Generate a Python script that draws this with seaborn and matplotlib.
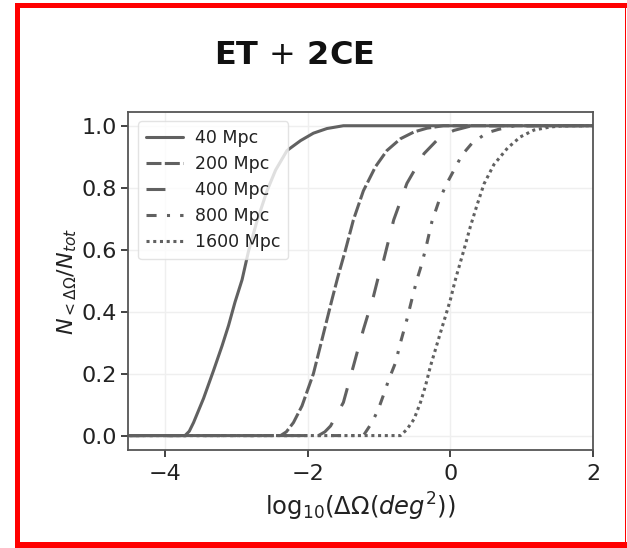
import matplotlib
matplotlib.use("Agg")
import matplotlib.pyplot as plt
import seaborn as sns
import pandas as pd
from matplotlib.patches import Rectangle

# ---- data ----
labels = ["40 Mpc", "200 Mpc", "400 Mpc", "800 Mpc", "1600 Mpc"]

x_40 = [-4.5, -3.72, -3.66, -3.60, -3.46, -3.32, -3.20, -3.11, -3.02, -2.92, -2.83, -2.71,
        -2.57, -2.45, -2.29, -2.10, -1.92, -1.73, -1.50, 2.0]
y_40 = [0.0, 0.0, 0.014, 0.042, 0.12, 0.21, 0.29, 0.355, 0.43, 0.503, 0.595, 0.693,
        0.79, 0.857, 0.92, 0.952, 0.976, 0.991, 1.0, 1.0]

x_200 = [-4.5, -2.38, -2.30, -2.20, -2.08, -1.92, -1.80, -1.66, -1.58, -1.47, -1.36, -1.22,
         -1.05, -0.89, -0.70, -0.51, -0.33, -0.10, 2.0]
y_200 = [0.0, 0.0, 0.012, 0.042, 0.096, 0.20, 0.31, 0.439, 0.51, 0.60, 0.696, 0.79,
         0.868, 0.92, 0.958, 0.98, 0.992, 1.0, 1.0]

x_400 = [-4.5, -1.85, -1.76, -1.68, -1.50, -1.36, -1.22, -1.08, -1.02, -0.935, -0.795,
         -0.61, -0.37, -0.14, 0.05, 0.30, 2.0]
y_400 = [0.0, 0.0, 0.012, 0.031, 0.107, 0.224, 0.342, 0.448, 0.503, 0.567, 0.696,
         0.814, 0.91, 0.965, 0.985, 1.0, 1.0]

x_800 = [-4.5, -1.22, -1.10, -1.01, -0.935, -0.865, -0.77, -0.70, -0.61, -0.54, -0.47,
         -0.42, -0.35, -0.26, -0.16, -0.05, 0.05, 0.16, 0.30, 0.51, 0.67, 0.90, 2.0]
y_800 = [0.0, 0.0, 0.042, 0.085, 0.133, 0.18, 0.235, 0.30, 0.375, 0.44, 0.503,
         0.54, 0.60, 0.69, 0.758, 0.814, 0.857, 0.905, 0.943, 0.977, 0.988, 1.0, 1.0]

x_1600 = [-4.5, -0.70, -0.61, -0.51, -0.42, -0.35, -0.28, -0.21, -0.14, -0.07, 0.0, 0.06,
          0.09, 0.19, 0.28, 0.37, 0.47, 0.61, 0.80, 0.98, 1.17, 1.40, 1.60, 2.0]
y_1600 = [0.0, 0.0, 0.02, 0.053, 0.107, 0.16, 0.224, 0.278, 0.332, 0.385, 0.439, 0.495,
          0.52, 0.60, 0.675, 0.742, 0.812, 0.875, 0.928, 0.964, 0.986, 0.996, 1.0, 1.0]

x_ticks = [-4, -2, 0, 2]
y_ticks = [0.0, 0.2, 0.4, 0.6, 0.8, 1.0]

series_x = [x_40, x_200, x_400, x_800, x_1600]
series_y = [y_40, y_200, y_400, y_800, y_1600]

frames = []
for lab, xs, ys in zip(labels, series_x, series_y):
    frames.append(pd.DataFrame({"x": xs, "y": ys, "dist": lab}))
df = pd.concat(frames, ignore_index=True)

# ---- style ----
sns.set_theme(style="whitegrid")
plt.rcParams["font.family"] = ["DejaVu Sans"]
plt.rcParams["mathtext.fontset"] = "dejavusans"

fig = plt.figure(figsize=(6.27, 5.48), dpi=100)
fig.patch.set_facecolor("white")
ax = fig.add_axes([0.204, 0.178, 0.742, 0.618])

line_color = "#616161"
dash_map = {
    "40 Mpc": "",
    "200 Mpc": (4.9, 1.1),
    "400 Mpc": (6.2, 6.2),
    "800 Mpc": (3.3, 3.4, 1.0, 3.3),
    "1600 Mpc": (1.0, 1.2),
}

sns.lineplot(data=df, x="x", y="y", style="dist", style_order=labels,
             dashes=dash_map, color=line_color, linewidth=2.2,
             estimator=None, sort=False, ax=ax)

ax.set_xlim(-4.52, 2.0)
ax.set_ylim(-0.048, 1.045)
ax.set_xticks(x_ticks)
ax.set_yticks(y_ticks)
ax.set_xticklabels(["\u22124", "\u22122", "0", "2"])
ax.set_yticklabels([f"{v:.1f}" for v in y_ticks])
ax.tick_params(axis="both", labelsize=16, colors="#222222", length=5, width=1.2,
               direction="out", bottom=True, left=True, pad=3)
ax.tick_params(axis="x", pad=5)
ax.grid(True, color="#efefef", linewidth=1.0)
ax.set_facecolor("white")
for sp in ax.spines.values():
    sp.set_color("#555555")
    sp.set_linewidth(1.3)

ax.set_xlabel(r"$\mathrm{log}_{10}(\Delta\Omega(deg^2))$", fontsize=17.5, color="#222222",
              labelpad=5)
ax.set_ylabel(r"$N_{<\Delta\Omega}/N_{tot}$", fontsize=16, color="#222222", labelpad=2)

leg = ax.legend(loc="upper left", fontsize=12.5, handlelength=2.1, handletextpad=0.7,
                frameon=True, framealpha=0.8, borderpad=0.45, labelspacing=0.46,
                bbox_to_anchor=(0.004, 0.997))
leg.get_frame().set_edgecolor("#dddddd")
leg.get_frame().set_linewidth(1.0)
for t in leg.get_texts():
    t.set_color("#222222")

fig.text(294 / 627, 1 - 55 / 548, "ET $+$ 2CE", fontsize=23, fontweight="bold",
         ha="center", va="center", color="#111111")

# red frame around the picture
W, H = 627.0, 548.0
red = "#ff0000"
fig.add_artist(Rectangle((15 / W, 0), 4.5 / W, 1 - 2.7 / H, transform=fig.transFigure,
                         color=red, lw=0))
fig.add_artist(Rectangle((15 / W, 1 - 7.5 / H), 1 - 15 / W, 4.8 / H, transform=fig.transFigure,
                         color=red, lw=0))
fig.add_artist(Rectangle((15 / W, 0), 1 - 15 / W, 6.5 / H, transform=fig.transFigure,
                         color=red, lw=0))
fig.add_artist(Rectangle((624.8 / W, 0), 1.6 / W, 1 - 2.7 / H, transform=fig.transFigure,
                         color=red, lw=0))

fig.savefig("out.png", dpi=100, facecolor="white")
